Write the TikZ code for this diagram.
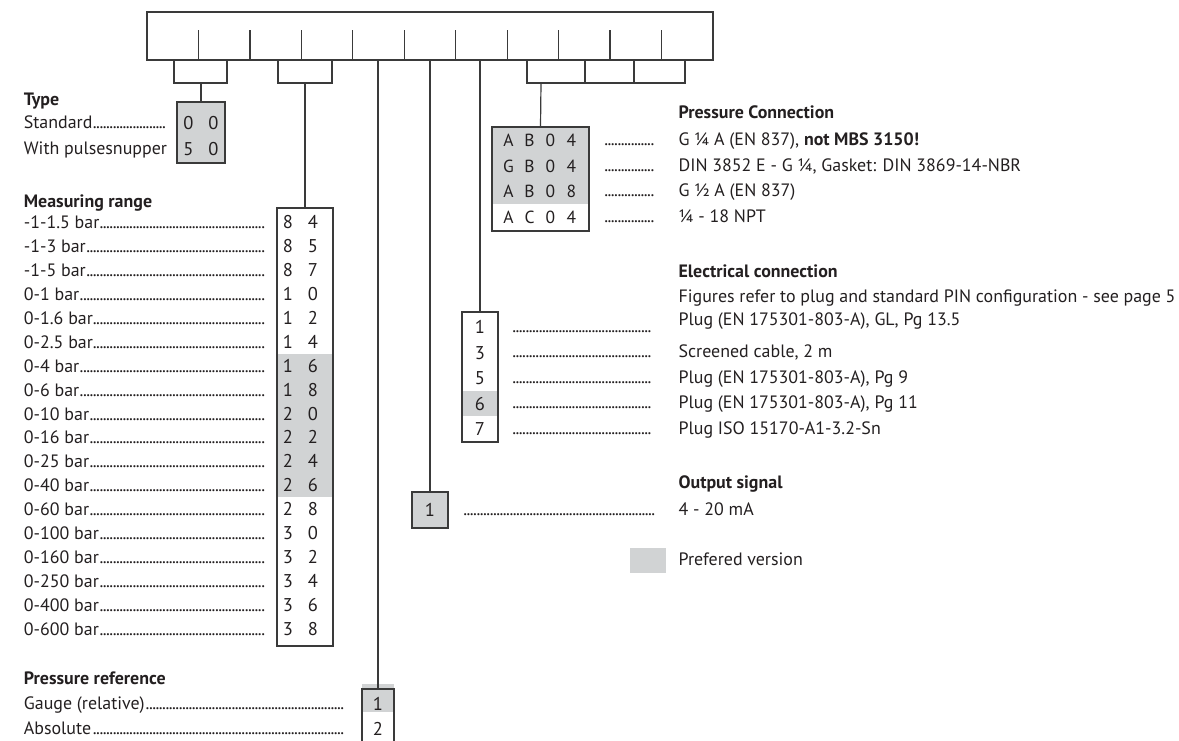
\documentclass[tikz,border=0pt]{standalone}
\usepackage{fontspec}
\usepackage{xfp}
\setmainfont{PT Sans}
\definecolor{ln}{HTML}{3A3A3A}
\definecolor{tx}{HTML}{231F20}
\definecolor{pref}{HTML}{D1D3D4}
\newlength\figw
\newlength\prw
\makeatletter
\newcommand\ptval[1]{\strip@pt#1}
\makeatother
\newcommand\ldrs{\leaders\hbox to 3.3pt{\hss.\hss}\hfill}
\newcommand\lead[2]{\makebox[#1pt][l]{#2\ldrs}}
\newcommand\dgs[2]{\makebox[25pt]{#1}\makebox[25pt]{#2}}
\newcommand\pcs[4]{\makebox[21pt]{#1}\makebox[21pt]{#2}\makebox[21pt]{#3}\makebox[21pt]{#4}}
\begin{document}
\settowidth\figw{\fontsize{10}{12}\selectfont Figures refer to plug and standard PIN configuration - see page 5}
\edef\fsz{\fpeval{round(4970/\ptval\figw,2)}}
\newcommand\lab{\fontsize{\fsz}{\fsz}\selectfont}
\newcommand\dig{\fontsize{18.5}{18.5}\selectfont}
\newcommand\pcf{\fontsize{17.5}{17.5}\selectfont}
\settowidth\prw{\lab\bfseries Pressure reference}
\edef\lx{\fpeval{165-\ptval\prw}}
\edef\tw{\fpeval{168-\lx}}
\edef\mw{\fpeval{267-\lx}}
\edef\pw{\fpeval{345-\lx}}
\begin{tikzpicture}[x=1pt,y=-1pt,line width=1.2pt,
  lbl/.style={anchor=base west,inner sep=0pt,text=tx,font=\lab},
  hd/.style={lbl,font=\lab\bfseries},
  dg/.style={anchor=base,inner sep=0pt,text=tx,font=\dig},
  bx/.style={draw=ln,line width=1.2pt,inner sep=0pt,outer sep=0pt,anchor=north west},
  wire/.style={draw=ln,line width=1.2pt}]
\useasboundingbox (0,0) rectangle (1179,740);
% code box
\node[bx,minimum width=566pt,minimum height=48pt] (code) at (147,12) {};
\foreach \k in {1,...,10} \draw[wire] ({147+51.45*\k},30) -- ({147+51.45*\k},60);
\foreach \k/\xx in {1/174,2/227,3/278,4/332,5/378,6/430,7/480,8/527,9/585,10/634,11/685}
  \coordinate (c\k) at (\xx,60);
% Type
\node[hd] (th) at (\lx,105) {Type};
\node[bx,fill=pref,minimum width=48pt,minimum height=61pt] (tbox) at (177,102) {};
\node[dg] (t1) at (201,129.5) {\dgs{0}{0}};
\node[dg] (t2) at (201,155.5) {\dgs{5}{0}};
\node[lbl] (ts) at (\lx,128.5) {\lead{\tw}{Standard}};
\node[lbl] (tw) at (\lx,154) {With pulsesnupper};
\coordinate (tj) at (201,83);
\draw[wire] (c1) |- (tj) -| (c2);
\draw[wire] (tj) -- (tbox.north);
% Measuring range
\node[hd] (mh) at (\lx,207) {Measuring range};
\fill[pref] (277,353.6) rectangle (333,497.3);
\node[bx,minimum width=56pt,minimum height=438pt] (mbox) at (277,208) {};
\foreach \mt/\da/\db [count=\i from 0] in {-1-1.5 bar/8/4,-1-3 bar/8/5,-1-5 bar/8/7,0-1 bar/1/0,0-1.6 bar/1/2,0-2.5 bar/1/4,0-4 bar/1/6,0-6 bar/1/8,0-10 bar/2/0,0-16 bar/2/2,0-25 bar/2/4,0-40 bar/2/6,0-60 bar/2/8,0-100 bar/3/0,0-160 bar/3/2,0-250 bar/3/4,0-400 bar/3/6,0-600 bar/3/8}{
  \node[lbl] (ml\i) at (\lx,{228.5+23.94*\i}) {\lead{\mw}{\mt}};
  \node[dg] (md\i) at (300.5,{228.5+23.94*\i}) {\dgs{\da}{\db}};
}
\coordinate (mj) at (305,83);
\draw[wire] (c3) |- (mj) -| (c4);
\draw[wire] (mj) -- (mbox.north);
% Pressure reference
\node[hd] (ph) at (\lx,684) {Pressure reference};
\fill[pref] (362,684) rectangle (394,712);
\node[bx,minimum width=32pt,minimum height=53pt] (pbox) at (362,689) {};
\node[dg] (p1) at (378,710.5) {1};
\node[dg] (p2) at (378,735.5) {2};
\node[lbl] (pg) at (\lx,709.5) {\lead{\pw}{Gauge (relative)}};
\node[lbl] (pa) at (\lx,734.5) {\lead{\pw}{Absolute}};
\draw[wire] (c5) -- (pbox.north);
% Pressure connection
\node[hd] (ch) at (678,118) {Pressure Connection};
\fill[pref] (492,127) rectangle (589,204);
\node[bx,minimum width=97pt,minimum height=104pt] (cbox) at (492,127) {};
\foreach \da/\db/\dc/\dd/\txt [count=\i from 0] in {A/B/0/4/{G ¼ A (EN 837), \textbf{not MBS 3150!}},G/B/0/4/{DIN 3852 E - G ¼, Gasket: DIN 3869-14-NBR},A/B/0/8/{G ½ A (EN 837)},A/C/0/4/{¼ - 18 NPT}}{
  \node[dg,font=\pcf] (cd\i) at (540,{146.5+25.5*\i}) {\pcs{\da}{\db}{\dc}{\dd}};
  \node[lbl] (cl\i) at (604,{145.5+25.5*\i}) {\makebox[51pt][l]{\ldrs}};
  \node[lbl] (ct\i) at (678,{145.5+25.5*\i}) {\txt};
}
\coordinate (pj) at (541,83);
\draw[wire] (c8) |- (pj) -| (c11);
\draw[wire] (c9) -- (c9 |- pj);
\draw[wire] (c10) -- (c10 |- pj);
\draw[wire] (pj) -- (cbox.north);
% Electrical connection
\node[hd] (eh) at (678,277) {Electrical connection};
\node[lbl] (ef) at (678,302) {Figures refer to plug and standard PIN configuration - see page 5};
\fill[pref] (462,391) rectangle (498,416);
\node[bx,minimum width=36pt,minimum height=130pt] (ebox) at (462,312) {};
\foreach \d [count=\i from 0] in {1,3,5,6,7}{
  \node[dg] (ed\i) at (480,{333.5+25.5*\i}) {\d};
  \node[lbl] (el\i) at (512,{332+25.5*\i}) {\makebox[140pt][l]{\ldrs}};
}
\node[lbl] (et0) at (678,325) {Plug (EN 175301-803-A), GL, Pg 13.5};
\node[lbl] (et1) at (678,357.5) {Screened cable, 2 m};
\node[lbl] (et2) at (678,383) {Plug (EN 175301-803-A), Pg 9};
\node[lbl] (et3) at (678,408.5) {Plug (EN 175301-803-A), Pg 11};
\node[lbl] (et4) at (678,434) {Plug ISO 15170-A1-3.2-Sn};
\draw[wire] (c7) -- (c7 |- ebox.north);
% Output signal
\node[hd] (oh) at (678,488) {Output signal};
\node[bx,fill=pref,minimum width=36pt,minimum height=36pt] (obox) at (412,492) {};
\node[dg] (o1) at (430,516.5) {1};
\node[lbl] (ol) at (463,515) {\makebox[192pt][l]{\ldrs}};
\node[lbl] (ov) at (678,515) {4 - 20 mA};
\draw[wire] (c6) -- (c6 |- obox.north);
% Legend
\node[fill=pref,inner sep=0pt,minimum width=36pt,minimum height=25pt,anchor=north west] (leg) at (629,547) {};
\node[lbl] (lt) at (678,565) {Prefered version};
\end{tikzpicture}
\end{document}
